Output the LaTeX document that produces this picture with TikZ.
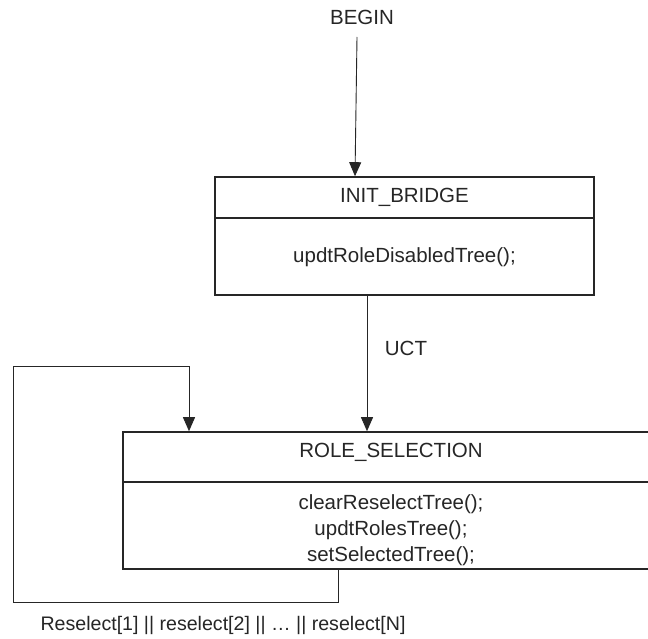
\documentclass[tikz,border=0pt]{standalone}
\usepackage{fontspec}
\setmainfont{Liberation Sans}
\usetikzlibrary{arrows.meta}
\begin{document}
\begin{tikzpicture}[x=1pt,y=-1pt,
  every node/.style={font=\fontsize{20.5}{26}\selectfont, text=black!85, inner sep=0pt},
  statebox/.style={draw=black!85, line width=1.6pt, rectangle, minimum width=#1},
  divline/.style={draw=black!85, line width=1.6pt},
  conn/.style={draw=black!85, line width=0.9pt},
  arr/.style={conn, -{Triangle[length=14pt,width=12pt]}},
  txt/.style={anchor=center, align=center}]
\clip (0,0) rectangle (648,639);
\fill[white] (0,0) rectangle (648,639);

% INIT_BRIDGE box
\node[statebox=379pt, minimum height=118pt] (init) at (404.5,236) {};
\draw[divline] (init.west |- 0,218) -- (init.east |- 0,218);
\node[txt] (initT) at (404.5,197) {INIT\_BRIDGE};
\node[txt] (initA) at (404.5,257) {updtRoleDisabledTree();};

% ROLE_SELECTION box
\node[statebox=536pt, minimum height=137pt] (role) at (391,500.5) {};
\draw[divline] (role.west |- 0,482) -- (role.east |- 0,482);
\node[txt] (roleT) at (391,452) {ROLE\_SELECTION};
\node[txt] (roleA) at (391,530) {clearReselectTree();\\updtRolesTree();\\setSelectedTree();};

% labels
\node[txt] (begin) at (362,17) {BEGIN};
\node[txt] (uct) at (406,348) {UCT};
\node[txt, font=\fontsize{19.6}{24}\selectfont] (loopL) at (223,625) {Reselect[1] || reselect[2] || … || reselect[N]};

% connectors
\coordinate (b1) at (357,37);
\draw[arr] (b1) -- (init.north -| 355,0);
\draw[arr] (init.south -| 367,0) -- (role.north -| 367,0);
\coordinate (l1) at (338,602);
\coordinate (l2) at (13,602);
\coordinate (l3) at (13,366);
\coordinate (l4) at (189,366);
\draw[arr] (role.south -| l1) -- (l1) -- (l2) -- (l3) -- (l4) -- (role.north -| l4);
\end{tikzpicture}
\end{document}
